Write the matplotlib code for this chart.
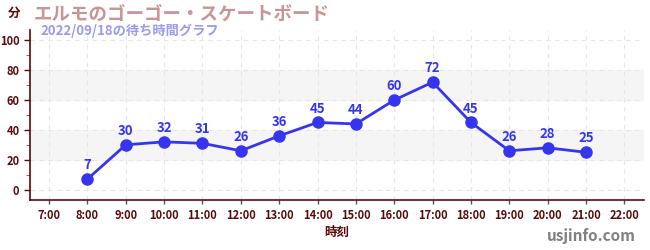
import matplotlib
matplotlib.use('Agg')
import matplotlib.pyplot as plt

plt.rcParams['font.family'] = ['Noto Sans CJK JP', 'DejaVu Sans']

hours = [8, 9, 10, 11, 12, 13, 14, 15, 16, 17, 18, 19, 20, 21]
waits = [7, 30, 32, 31, 26, 36, 45, 44, 60, 72, 45, 26, 28, 25]
tick_hours = list(range(7, 23))
tick_labels = ['%d:00' % h for h in tick_hours]

dark = '#5a0a0a'
blue = '#3535f0'

fig = plt.figure(figsize=(6.5, 2.5), dpi=100)
ax = fig.add_axes([0.046, 0.2, 0.944, 0.68])

for lo, hi in [(20, 40), (60, 80)]:
    ax.axhspan(lo, hi, color='#f5f5f5', zorder=0)
ax.grid(True, ls=(0, (4, 4)), color='#e6e6e6', lw=0.8, zorder=0)

ax.plot(hours, waits, color=blue, lw=2, marker='o', ms=8, zorder=3)
for h, w in zip(hours, waits):
    ax.annotate(str(w), (h, w), xytext=(0, 5), textcoords='offset points',
                ha='center', va='bottom', color=blue, fontsize=9.5, fontweight='bold')

ax.set_xlim(6.5, 22.5)
ax.set_ylim(-7, 107)
ax.set_xticks(tick_hours)
ax.set_xticklabels(tick_labels)
ax.set_yticks([0, 20, 40, 60, 80, 100])
ax.set_yticks([10, 30, 50, 70, 90], minor=True)
ax.tick_params(axis='both', colors=dark, labelsize=8, length=4, width=1)
ax.tick_params(axis='x', length=3, colors='#555555', labelcolor=dark)
ax.tick_params(axis='y', which='minor', length=3, color='#dd2222')
for lab in ax.get_xticklabels() + ax.get_yticklabels():
    lab.set_fontweight('bold')

for s in ['top', 'right']:
    ax.spines[s].set_visible(False)
for s in ['left', 'bottom']:
    ax.spines[s].set_color(dark)
    ax.spines[s].set_linewidth(1.2)

ax.set_xlabel('時刻', color=dark, fontsize=9, fontweight='bold', labelpad=3)

fig.text(0.012, 0.945, '分', color=dark, fontsize=9, fontweight='bold', va='center')
fig.text(0.052, 0.945, 'エルモのゴーゴー・スケートボード', color='#c89494',
         fontsize=13.3, fontweight='bold', va='center')
fig.text(0.062, 0.875, '2022/09/18の待ち時間グラフ', color='#9a9af0',
         fontsize=9.5, fontweight='bold', va='center')
fig.text(0.978, 0.055, 'usjinfo.com', color='#808080', fontsize=11,
         fontweight='bold', ha='right', va='center')

fig.savefig('out.png', dpi=100)
